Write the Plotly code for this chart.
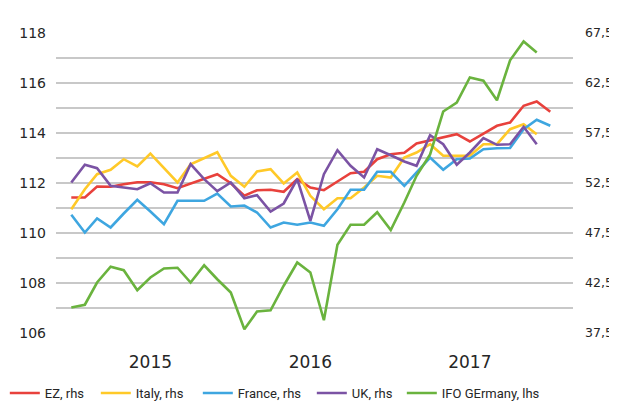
"""Euro-area PMIs against the IFO business climate index."""
import pandas as pd
import plotly.graph_objects as go

months = pd.date_range("2015-01-01", periods=37, freq="MS").strftime("%Y-%m-%d").tolist()

# PMIs, right-hand axis
ez = [51.05, 51.05, 52.15, 52.12, 52.38, 52.58, 52.58, 52.38, 51.98, 52.45,
      52.88, 53.38, 52.48, 51.22, 51.78, 51.82, 51.62, 52.88, 52.05, 51.78,
      52.65, 53.48, 53.62, 54.88, 55.38, 55.52, 56.45, 56.78, 57.05, 57.38,
      56.65, 57.45, 58.22, 58.55, 60.22, 60.65, 59.62]
italy = [49.88, 51.88, 53.38, 53.82, 54.88, 54.15, 55.45, 53.95, 52.55, 54.38,
         54.98, 55.58, 53.22, 52.12, 53.65, 53.88, 52.45, 53.55, 51.22, 49.88,
         50.98, 50.98, 52.05, 53.22, 53.05, 55.05, 55.55, 56.38, 55.22, 55.22,
         55.22, 56.38, 56.38, 57.88, 58.38, 57.38]
france = [49.32, 47.55, 48.95, 48.05, 49.45, 50.82, 49.65, 48.38, 50.72, 50.72,
          50.72, 51.45, 50.15, 50.25, 49.55, 48.05, 48.55, 48.32, 48.55, 48.22,
          49.88, 51.82, 51.82, 53.62, 53.62, 52.22, 53.55, 55.05, 53.82, 54.88,
          54.95, 55.88, 55.98, 56.0, 57.88, 58.82, 58.22]
uk = [52.55, 54.32, 53.98, 52.22, 52.05, 51.88, 52.48, 51.55, 51.55, 54.38,
      52.88, 51.68, 52.55, 50.98, 51.28, 49.65, 50.45, 52.88, 48.72, 53.38,
      55.78, 54.22, 53.05, 55.88, 55.28, 54.65, 54.22, 57.28, 56.38, 54.32,
      55.55, 56.98, 56.32, 56.38, 58.12, 56.38]

# IFO business climate, left-hand axis
ifo = [107.02, 107.13, 108.02, 108.65, 108.51, 107.71, 108.22, 108.58, 108.61,
       108.02, 108.71, 108.15, 107.62, 106.15, 106.86, 106.91, 107.89, 108.82,
       108.42, 106.51, 109.53, 110.33, 110.33, 110.83, 110.12, 111.22, 112.29,
       113.14, 114.86, 115.22, 116.22, 116.09, 115.31, 116.91, 117.66, 117.22]

year_ticks = ["2015-07-01", "2016-07-01", "2017-07-01"]
year_labels = ["2015", "2016", "2017"]

FONT = "DejaVu Sans"
GRID = "#c8c8c8"

fig = go.Figure()

# (name, values, colour, legend text width)
pmi_series = [
    ("EZ, rhs", ez, "#e8413c", 46),
    ("Italy, rhs", italy, "#ffc928", 57),
    ("France, rhs", france, "#3ea6e0", 69),
    ("UK, rhs", uk, "#7b53a4", 45),
]
for name, values, color, lw in pmi_series:
    fig.add_trace(go.Scatter(
        x=months[:len(values)], y=values, name=name, mode="lines",
        line=dict(color=color, width=2.6), yaxis="y", legendwidth=lw
    ))

fig.add_trace(go.Scatter(
    x=months[:len(ifo)], y=ifo, name="IFO GErmany, lhs", mode="lines",
    line=dict(color="#6ab33e", width=2.6), yaxis="y2", legendwidth=100
))

fig.update_layout(
    width=617, height=401,
    margin=dict(l=48, r=52, t=25, b=76, autoexpand=False),
    paper_bgcolor="white", plot_bgcolor="white",
    separators=", ",
    font=dict(family=FONT, size=13.5, color="#262626"),
    xaxis=dict(
        type="date", range=["2014-11-27", "2018-02-22"],
        tickvals=year_ticks, ticktext=year_labels,
        showgrid=False, zeroline=False, showline=False, ticks="",
        tickfont=dict(size=17), ticklabelstandoff=17
    ),
    yaxis=dict(
        side="right", range=[37.5, 67.5], tickvals=[37.5, 42.5, 47.5, 52.5, 57.5, 62.5, 67.5],
        tickformat=".1f", showgrid=True, gridcolor=GRID, gridwidth=1.5,
        minor=dict(dtick=2.5, tick0=37.5, showgrid=True, gridcolor=GRID, gridwidth=1.5),
        zeroline=False, showline=False, ticks="", ticklabelstandoff=11,
        tickfont=dict(size=12.5)
    ),
    yaxis2=dict(
        side="left", overlaying="y", range=[106, 118], dtick=2, tick0=106,
        showgrid=False, zeroline=False, showline=False, ticks="",
        ticklabelstandoff=9, tickfont=dict(size=14)
    ),
    legend=dict(
        orientation="h", xref="paper", yref="paper",
        x=-0.099, y=-0.2, xanchor="left", yanchor="middle",
        font=dict(family="Roboto", size=13, color="#262626"),
        itemwidth=30, tracegroupgap=0
    ),
    showlegend=True
)

fig.write_html("out.html")
